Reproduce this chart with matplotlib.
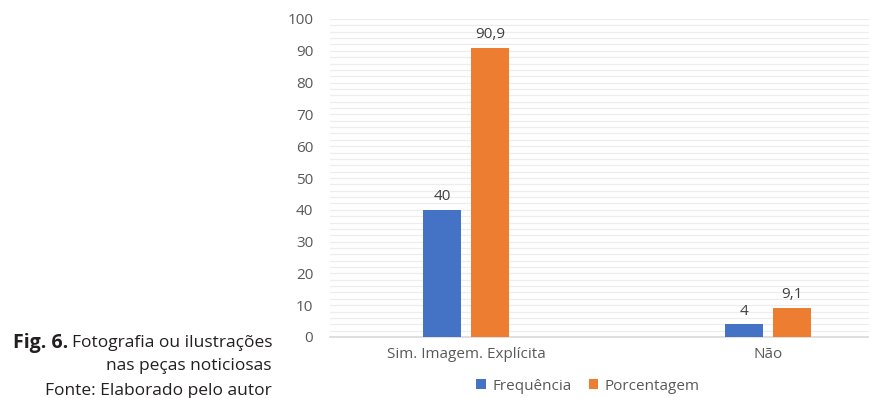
import numpy as np
import matplotlib.pyplot as plt
from matplotlib.ticker import MultipleLocator

# dados do gráfico
categorias = ["Sim. Imagem. Explícita", "Não"]
frequencia = [40, 4]
porcentagem = [90.9, 9.1]
series = ["Frequência", "Porcentagem"]
cores = ["#4472C4", "#ED7D31"]

plt.rcParams['font.family'] = ['Open Sans', 'DejaVu Sans']

fig = plt.figure(figsize=(8.69, 3.98), dpi=100)
# eixo do gráfico ocupa a parte direita da figura
ax = fig.add_axes([330 / 869, 61 / 398, 539 / 869, 318 / 398])

px = 302.0  # pixels por categoria
x = np.arange(len(categorias))
largura = 38 / px
desloc = 24 / px

ax.bar(x - desloc, frequencia, largura, color=cores[0], label=series[0], zorder=3)
ax.bar(x + desloc, porcentagem, largura, color=cores[1], label=series[1], zorder=3)

def fmt(v):
    return f"{v:g}".replace('.', ',')

for xi, v in zip(x - desloc, frequencia):
    ax.text(xi, v + 1.8, fmt(v), ha='center', va='bottom', fontsize=11, color='#404040')
for xi, v in zip(x + desloc, porcentagem):
    ax.text(xi, v + 1.8, fmt(v), ha='center', va='bottom', fontsize=11, color='#404040')

x0 = -(466 - 330) / px
ax.set_xlim(x0, x0 + 539 / px)
ax.set_ylim(0, 100)
ax.yaxis.set_major_locator(MultipleLocator(10))
ax.yaxis.set_minor_locator(MultipleLocator(2))
ax.grid(axis='y', which='both', color='#EDEDED', linewidth=0.9, zorder=0)

for s in ['top', 'right', 'left']:
    ax.spines[s].set_visible(False)
ax.spines['bottom'].set_color('#D9D9D9')
ax.spines['bottom'].set_linewidth(1.2)

ax.set_xticks(x)
ax.set_xticklabels(categorias)
ax.tick_params(axis='x', length=0, pad=7, labelsize=11, labelcolor='#595959')
ax.tick_params(axis='y', which='both', length=0, pad=12, labelsize=11, labelcolor='#595959')

fig.legend(loc='center', bbox_to_anchor=(588 / 869, 1 - 386 / 398), ncol=2,
           frameon=False, fontsize=11, handlelength=0.65, handleheight=0.65,
           handletextpad=0.4, columnspacing=1.1, labelcolor='#595959')

# legenda da figura
cor_txt = '#231F20'
linha1 = fig.text(272 / 869, 1 - 343 / 398, "Fotografia ou ilustrações", ha='right',
                  va='center', fontsize=12.5, color=cor_txt)
fig.canvas.draw()
bb = linha1.get_window_extent()
fig.text((bb.x0 - 3) / 869, 1 - 343 / 398, "Fig. 6.", ha='right', va='center',
         fontsize=14, fontweight='bold', color=cor_txt)
fig.text(272 / 869, 1 - 366 / 398, "nas peças noticiosas", ha='right', va='center',
         fontsize=12.5, color=cor_txt)
fig.text(272 / 869, 1 - 391 / 398, "Fonte: Elaborado pelo autor", ha='right', va='center',
         fontsize=12.5, color=cor_txt)

fig.savefig("out.png", dpi=100)
